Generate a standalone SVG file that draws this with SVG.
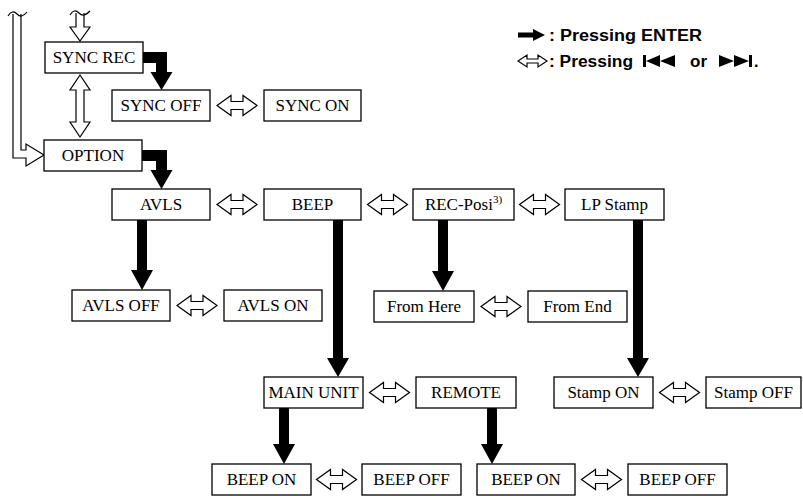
<svg xmlns="http://www.w3.org/2000/svg" width="803" height="496" viewBox="0 0 803 496">
<style>
.box{fill:#fff;stroke:#000;stroke-width:1.3}
.lbl{font-family:"Liberation Serif","Times New Roman",serif;font-size:17px;fill:#000;text-anchor:middle}
.leg{font-family:"Liberation Sans",Arial,sans-serif;font-weight:bold;font-size:16px;fill:#000}
.hol{fill:#fff;stroke:#000;stroke-width:1.2;stroke-linejoin:miter}
.blk{fill:#000;stroke:none}
.ln{fill:none;stroke:#000;stroke-width:1.2}
</style>
<defs>
<path id="dbl" d="M-20,0 L-6,-10 L-6,-4 L6,-4 L6,-10 L20,0 L6,10 L6,4 L-6,4 L-6,10 Z"/>
<path id="down" d="M-5.5,0 H5.5 V-19 H11 L0,0 Z"/>
</defs>

<g id="connectors">
  <!-- loop hollow arrow at far left -->
  <path class="hol" d="M13,14 V158 H26 V166 L44,155 L26,144 V150 H21 V14"/>
  <path class="ln" d="M8,16 C11,11 14,11 17,14 S23,17 27,12"/>
  <!-- top hollow down arrow -->
  <path class="hol" d="M76,13 V27 H70 L80,41 L90,27 H84 V13"/>
  <path class="ln" d="M70,15 C73,10 76,10 79,13 S85,16 90,11"/>
  <!-- vertical hollow double arrow -->
  <path class="hol" d="M80,75 L90,90 L84,90 L84,122 L90,122 L80,137 L70,122 L76,122 L76,90 L70,90 Z"/>

  <!-- black elbow arrows -->
  <path class="blk" d="M143,52 H167 V72 H172.5 L161.5,90 L150.5,72 H156 V63 H143 Z"/>
  <path class="blk" d="M142,150 H167 V170 H172.5 L161.5,189 L150.5,170 H156 V161 H142 Z"/>

  <!-- black vertical arrows -->
  <path class="blk" d="M137,220 H147 V270 H153 L142,290 L131,270 H137 Z"/>
  <path class="blk" d="M333,220 H343 V358 H349 L338,377 L327,358 H333 Z"/>
  <path class="blk" d="M438,220 H448 V271 H454 L443,291 L432,271 H438 Z"/>
  <path class="blk" d="M633,220 H643 V358 H649 L638,377 L627,358 H633 Z"/>
  <path class="blk" d="M279,408 H289 V444 H295 L284,464 L273,444 H279 Z"/>
  <path class="blk" d="M487,408 H497 V444 H503 L492,464 L481,444 H487 Z"/>

  <!-- hollow horizontal double arrows -->
  <use href="#dbl" class="hol" transform="translate(237,105.5)"/>
  <use href="#dbl" class="hol" transform="translate(237,204.5)"/>
  <use href="#dbl" class="hol" transform="translate(387.5,204.5)"/>
  <use href="#dbl" class="hol" transform="translate(539.5,204.5)"/>
  <use href="#dbl" class="hol" transform="translate(197,305.5)"/>
  <use href="#dbl" class="hol" transform="translate(501,306.5)"/>
  <use href="#dbl" class="hol" transform="translate(389.5,392.5)"/>
  <use href="#dbl" class="hol" transform="translate(679.5,392.5)"/>
  <use href="#dbl" class="hol" transform="translate(336.5,479.5)"/>
  <use href="#dbl" class="hol" transform="translate(601.5,479.5)"/>
</g>

<g id="sync_rec"><rect class="box" x="45" y="42" width="98" height="31"/><text class="lbl" x="94" y="63">SYNC REC</text></g>
<g id="sync_off"><rect class="box" x="112" y="90" width="98" height="31"/><text class="lbl" x="161" y="111">SYNC OFF</text></g>
<g id="sync_on"><rect class="box" x="264" y="90" width="97" height="31"/><text class="lbl" x="312.5" y="111">SYNC ON</text></g>
<g id="option"><rect class="box" x="44" y="140" width="98" height="31"/><text class="lbl" x="93" y="161">OPTION</text></g>
<g id="avls"><rect class="box" x="112" y="189" width="98" height="31"/><text class="lbl" x="161" y="210">AVLS</text></g>
<g id="beep"><rect class="box" x="264" y="189" width="97" height="31"/><text class="lbl" x="312.5" y="210">BEEP</text></g>
<g id="rec_posi"><rect class="box" x="413" y="189" width="101" height="31"/><text class="lbl" x="463.5" y="210">REC-Posi<tspan font-size="11" dy="-7">3)</tspan></text></g>
<g id="lp_stamp"><rect class="box" x="565" y="189" width="99" height="31"/><text class="lbl" x="614.5" y="210">LP Stamp</text></g>
<g id="avls_off"><rect class="box" x="72" y="290" width="98" height="31"/><text class="lbl" x="121" y="311">AVLS OFF</text></g>
<g id="avls_on"><rect class="box" x="224" y="290" width="98" height="31"/><text class="lbl" x="273" y="311">AVLS ON</text></g>
<g id="from_here"><rect class="box" x="374" y="291" width="100" height="31"/><text class="lbl" x="424" y="312">From Here</text></g>
<g id="from_end"><rect class="box" x="528" y="291" width="99" height="31"/><text class="lbl" x="577.5" y="312">From End</text></g>
<g id="main_unit"><rect class="box" x="264" y="377" width="99" height="31"/><text class="lbl" x="313.5" y="398">MAIN UNIT</text></g>
<g id="remote"><rect class="box" x="416" y="377" width="100" height="31"/><text class="lbl" x="466" y="398">REMOTE</text></g>
<g id="stamp_on"><rect class="box" x="554" y="377" width="99" height="31"/><text class="lbl" x="603.5" y="398">Stamp ON</text></g>
<g id="stamp_off"><rect class="box" x="706" y="377" width="95" height="31"/><text class="lbl" x="753.5" y="398">Stamp OFF</text></g>
<g id="beep_on_1"><rect class="box" x="212" y="464" width="99" height="31"/><text class="lbl" x="261.5" y="485">BEEP ON</text></g>
<g id="beep_off_1"><rect class="box" x="362" y="464" width="99" height="31"/><text class="lbl" x="411.5" y="485">BEEP OFF</text></g>
<g id="beep_on_2"><rect class="box" x="477" y="464" width="98" height="31"/><text class="lbl" x="526" y="485">BEEP ON</text></g>
<g id="beep_off_2"><rect class="box" x="628" y="464" width="99" height="31"/><text class="lbl" x="677.5" y="485">BEEP OFF</text></g>

<g id="legend">
  <path class="blk" d="M518,32.5 H533 V29 L545,35 L533,41 V37.5 H518 Z"/>
  <text class="leg" x="549" y="41" textLength="153" lengthAdjust="spacingAndGlyphs">: Pressing ENTER</text>
  <path class="hol" d="M518,61 L527,55 L527,59 L538,59 L538,55 L547,61 L538,67 L538,63 L527,63 L527,67 Z"/>
  <text class="leg" x="549" y="67" textLength="84" lengthAdjust="spacingAndGlyphs">: Pressing</text>
  <rect class="blk" x="643" y="55" width="3" height="12"/>
  <polygon class="blk" points="646,61 660,55 660,67"/>
  <polygon class="blk" points="660,61 675,55 675,67"/>
  <text class="leg" x="690" y="67" textLength="17" lengthAdjust="spacingAndGlyphs">or</text>
  <polygon class="blk" points="719,55 734,61 719,67"/>
  <polygon class="blk" points="734,55 749,61 734,67"/>
  <rect class="blk" x="749" y="55" width="3" height="12"/>
  <text class="leg" x="754" y="67">.</text>
</g>
</svg>
